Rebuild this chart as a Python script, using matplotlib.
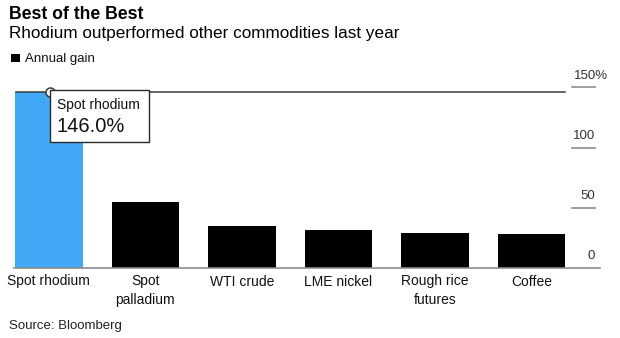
import matplotlib
matplotlib.use("Agg")
import matplotlib.pyplot as plt
from matplotlib.patches import Rectangle
import matplotlib.transforms as mtransforms

plt.rcParams['font.family'] = ['Liberation Sans', 'DejaVu Sans']

categories = ["Spot rhodium", "Spot\npalladium", "WTI crude", "LME nickel",
              "Rough rice\nfutures", "Coffee"]
gains = [146.0, 54.6, 34.6, 31.4, 28.4, 27.6]
highlight = 0
ytick_values = [0, 50, 100, 150]
ytick_labels = ["0", "50", "100", "150%"]

W, H = 620, 338
fig = plt.figure(figsize=(W / 100, H / 100), dpi=100)


def fx(px):
    return px / W


def fy(py):
    return 1 - py / H


def shift(trans, dx_px, dy_px):
    return trans + mtransforms.ScaledTranslation(dx_px / 100, dy_px / 100, fig.dpi_scale_trans)


# plot area: x 14..600 px, value 0 at 267.5 px, 150 at 87.5 px
ax = fig.add_axes([fx(14), fy(267.5), fx(586), 180 / H])
ax.set_xlim(-0.36, 5.71)
ax.set_ylim(0, 150)
ax.axis("off")

colors = ["#40a8f7" if i == highlight else "#000000" for i in range(len(gains))]
ax.bar(range(len(gains)), gains, width=0.70, color=colors, zorder=2)

# baseline
ax.plot([0, 1], [0, 0], transform=ax.get_yaxis_transform(), color="#8c8c8c",
        lw=1.2, zorder=3, clip_on=False)

# right-side ticks and labels
trans = ax.get_yaxis_transform()
for v, lab in zip(ytick_values, ytick_labels):
    if v != 0:
        ax.plot([0.952, 0.991], [v, v], transform=trans, color="#8c8c8c",
                lw=1.2, clip_on=False)
    xpos = 1.0137 if lab.endswith("%") else 0.9915
    ax.text(xpos, v, lab, transform=shift(trans, 0, 8.5), ha="right",
            va="baseline", fontsize=9.5, color="#333333")

# category labels
for i, c in enumerate(categories):
    ax.text(i, 0, c, transform=shift(ax.transData, 0, -7.0),
            ha="center", va="top", fontsize=10, color="#111111",
            linespacing=1.45)

# hover line and marker at the highlighted value
hv = gains[highlight]
ax.plot([-0.339, 5.348], [hv, hv], color="#3a3a3a", lw=1.1, zorder=4, clip_on=False)
ax.plot([0.008], [hv], marker="o", ms=6.5, mfc="white", mec="#3a3a3a", mew=1.1,
        zorder=6, clip_on=False)

# tooltip
box = Rectangle((fx(50), fy(141.5)), fx(99), (141.5 - 90) / H, transform=fig.transFigure,
                facecolor="white", edgecolor="#2a2a2a", lw=1.0, zorder=5)
fig.patches.append(box)
fig.text(fx(57), fy(109), "Spot rhodium", fontsize=10, color="#111111", va="baseline", zorder=7)
fig.text(fx(56), fy(132), f"{hv:.1f}%", fontsize=14.5, color="#111111", va="baseline", zorder=7)

# titles
fig.text(fx(9), fy(19.3), "Best of the Best", fontsize=12.7, fontweight="bold",
         color="#000000", va="baseline")
fig.text(fx(9), fy(38.3), "Rhodium outperformed other commodities last year",
         fontsize=12.3, color="#000000", va="baseline")
fig.patches.append(Rectangle((fx(10.5), fy(62.3)), fx(9), 8 / H, transform=fig.transFigure,
                             facecolor="black", edgecolor="none"))
fig.text(fx(25), fy(62.3), "Annual gain", fontsize=9.5, color="#111111", va="baseline")
fig.text(fx(9), fy(329), "Source: Bloomberg", fontsize=9.5, color="#222222", va="baseline")

fig.savefig("out.png", dpi=100)
